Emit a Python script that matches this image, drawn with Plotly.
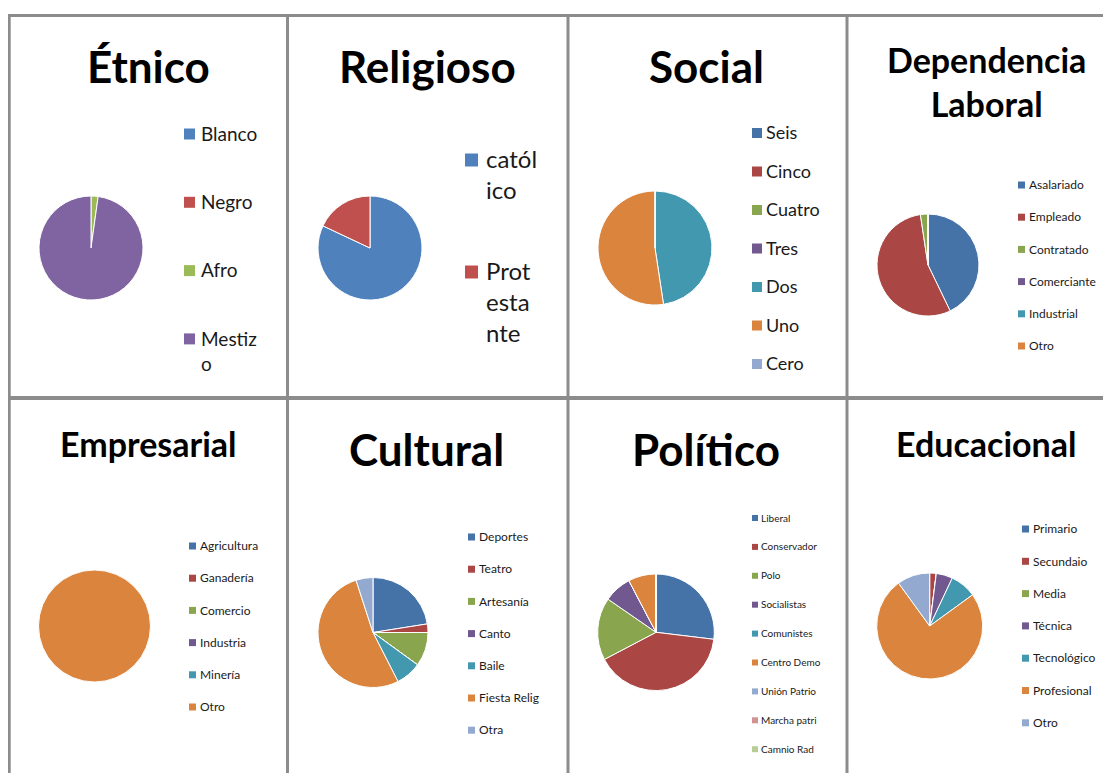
import plotly.graph_objects as go

# the page body adds an 8px margin, so the figure is sized to the remaining window
OFF = 8
W, H = 1111 - OFF, 773 - OFF

# ---------------- data ----------------
etnico_labels = ["Blanco", "Negro", "Afro", "Mestizo"]
etnico_values = [0, 0, 2.2, 97.8]

religioso_labels = ["católico", "Protestante"]
religioso_values = [82, 18]

social_labels = ["Seis", "Cinco", "Cuatro", "Tres", "Dos", "Uno", "Cero"]
social_values = [0, 0, 0, 0, 20, 22, 0]

laboral_labels = ["Asalariado", "Empleado", "Contratado", "Comerciante", "Industrial", "Otro"]
laboral_values = [18, 23, 1, 0, 0, 0]

empresarial_labels = ["Agricultura", "Ganadería", "Comercio", "Industria", "Minería", "Otro"]
empresarial_values = [0, 0, 0, 0, 0, 1]

cultural_labels = ["Deportes", "Teatro", "Artesanía", "Canto", "Baile", "Fiesta Relig", "Otra"]
cultural_values = [9, 1, 4, 0, 3, 21, 2]

politico_labels = ["Liberal", "Conservador", "Polo", "Socialistas", "Comunistes",
                   "Centro Demo", "Unión Patrio", "Marcha patri", "Camnio Rad"]
politico_values = [14, 21, 9, 4, 0, 4, 0, 0, 0]

educacional_labels = ["Primario", "Secundaio", "Media", "Técnica", "Tecnológico",
                      "Profesional", "Otro"]
educacional_values = [0, 2, 0, 5, 8, 75, 10]

titles = ["Étnico", "Religioso", "Social", "Dependencia<br>Laboral",
          "Empresarial", "Cultural", "Político", "Educacional"]

# legend text as wrapped in the narrow legend boxes
legend_wrap = {"Mestizo": "Mestiz<br>o", "católico": "catól<br>ico",
               "Protestante": "Prot<br>esta<br>nte"}

# ---------------- styles ----------------
bright = ["#4F81BD", "#C0504D", "#9BBB59", "#8064A2", "#4BACC6", "#F79646", "#95B3D7"]
dark = ["#4572A7", "#AA4643", "#89A54E", "#71588F", "#4198AF", "#DB843D",
        "#93A9CF", "#D19392", "#B9CD96"]

panels = [
    # pie (cx, cy, r), title (cx, cy, size), legend (sqx, sq, tx, y0, step, fs) in window px
    dict(lab=etnico_labels, val=etnico_values, col=bright, pie=(91, 248, 52),
         title=(148, 66, 44), leg=(184, 11, 200, 133, 68.3, 19)),
    dict(lab=religioso_labels, val=religioso_values, col=bright, pie=(370, 248, 52),
         title=(427, 66, 44), leg=(465, 13, 485, 159, 112, 24)),
    dict(lab=social_labels, val=social_values, col=dark, pie=(655, 248, 57),
         title=(706, 66, 44), leg=(752, 10, 765, 132, 38.5, 18)),
    dict(lab=laboral_labels, val=laboral_values, col=dark, pie=(928, 265, 51),
         title=(986, 82, 34), leg=(1018, 7, 1028, 184, 32.2, 12)),
    dict(lab=empresarial_labels, val=empresarial_values, col=dark, pie=(94.5, 626, 56),
         title=(148, 443, 34), leg=(189, 7, 199, 545, 32.2, 12)),
    dict(lab=cultural_labels, val=cultural_values, col=dark, pie=(373, 632.5, 55),
         title=(426, 449, 44), leg=(468, 7, 478, 536, 32.2, 12)),
    dict(lab=politico_labels, val=politico_values, col=dark, pie=(656, 632.3, 58.3),
         title=(706, 449, 44), leg=(752, 6, 760, 517, 28.9, 10)),
    dict(lab=educacional_labels, val=educacional_values, col=dark, pie=(929.7, 626, 53),
         title=(986, 443, 34), leg=(1022, 7, 1032, 528, 32.3, 12)),
]


def px(x):
    return (x - OFF) / W


def py(y):
    return 1 - (y - OFF) / H


fig = go.Figure()
shapes = []
annotations = []

FONT = "Lato, Calibri, Carlito, sans-serif"

for i, p in enumerate(panels):
    cx, cy, r = p["pie"]
    cols = p["col"][:len(p["lab"])]
    fig.add_trace(go.Pie(
        labels=p["lab"], values=p["val"], sort=False, direction="clockwise",
        rotation=0, textinfo="none", showlegend=False,
        marker=dict(colors=cols, line=dict(color="white", width=1)),
        domain=dict(x=[px(cx - r), px(cx + r)], y=[py(cy + r), py(cy - r)]),
        hoverinfo="label+percent", name=titles[i].replace("<br>", " "),
    ))
    tx, ty, ts = p["title"]
    annotations.append(dict(
        text="<b>" + titles[i] + "</b>", x=px(tx), y=py(ty), xref="paper", yref="paper",
        xanchor="center", yanchor="middle", showarrow=False,
        font=dict(family=FONT, size=ts, color="black"),
    ))
    sqx, sq, ltx, y0, step, fs = p["leg"]
    for k, lab in enumerate(p["lab"]):
        yc = y0 + k * step
        shapes.append(dict(
            type="rect", xref="paper", yref="paper",
            x0=px(sqx), x1=px(sqx + sq), y0=py(yc + 1 - sq / 2), y1=py(yc + 1 + sq / 2),
            fillcolor=cols[k], line=dict(width=0),
        ))
        txt = legend_wrap.get(lab, lab)
        annotations.append(dict(
            text=txt, x=px(ltx), y=py(yc - 0.65 * fs), xref="paper", yref="paper",
            xanchor="left", yanchor="top", align="left", showarrow=False, borderpad=0,
            font=dict(family=FONT, size=fs, color="#1a1a1a"),
        ))

# panel borders
BC = "#8C8C8C"
for x in [9.2, 287.5, 568, 847]:
    shapes.append(dict(type="line", xref="paper", yref="paper",
                       x0=px(x), x1=px(x), y0=py(14), y1=py(780),
                       line=dict(color=BC, width=3)))
for y, w in [(15.5, 3), (398, 4)]:
    shapes.append(dict(type="line", xref="paper", yref="paper",
                       x0=px(8), x1=px(1120), y0=py(y), y1=py(y),
                       line=dict(color=BC, width=w)))

fig.update_layout(
    width=W, height=H, autosize=False,
    margin=dict(l=0, r=0, t=0, b=0),
    paper_bgcolor="white", plot_bgcolor="white",
    shapes=shapes, annotations=annotations,
    showlegend=False,
)

fig.write_html("out.html")
